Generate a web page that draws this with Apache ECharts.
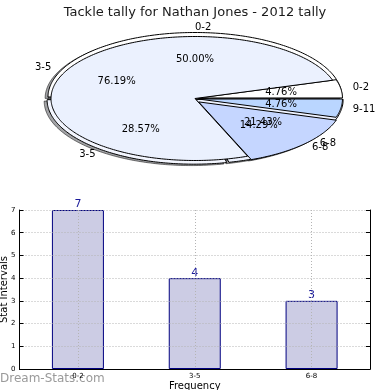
<!DOCTYPE html>
<html><head><meta charset="utf-8">
<script src="https://cdn.jsdelivr.net/npm/echarts@6/dist/echarts.min.js"></script>
<style>html,body{margin:0;padding:0;background:#fff}#c{width:390px;height:390px}</style>
</head><body><div id="c"></div>
<script>
// ---- data ----
const titleText = 'Tackle tally for Nathan Jones - 2012 tally';
const pie1Names = ['0-2', '3-5', '6-8'];
const pie1Values = [7, 4, 3];
const pie2Names = ['0-2', '3-5', '6-8', '9-11'];
const pie2Values = [1, 16, 3, 1];
const barCategories = ['0-2', '3-5', '6-8'];
const barValues = [7, 4, 3];
const yTickValues = [0, 1, 2, 3, 4, 5, 6, 7];
const xAxisName = 'Frequency';
const yAxisName = 'Stat Intervals';
const watermark = 'Dream-Stats.com';

// ---- styling / geometry ----
const FONT = '"DejaVu Sans", sans-serif';
const CX = 195, CY = 98.5;
const LABEL_RX = 145, LABEL_RY = 65;
const pie1Style = { rx: 147, ry: 64.5, explode: [1.5, 1.5, 1.5], colors: ['#ffffff', '#f3f6ff', '#eef3ff'] };
const pie2Style = { rx: 144, ry: 62, explode: [3.5, 0, 5, 3.5], colors: ['#ffffff', '#ebf1fe', '#c5d6ff', '#bad6ff'] };

function wedgePoints(cx, cy, rx, ry, a1, a2) {
  const pts = [[cx, cy]];
  const n = Math.max(2, Math.ceil(Math.abs(a2 - a1)));
  for (let i = 0; i <= n; i++) {
    const a = (a1 + (a2 - a1) * i / n) * Math.PI / 180;
    pts.push([cx + rx * Math.cos(a), cy - ry * Math.sin(a)]);
  }
  return pts;
}

function pieRender(values, names, st, mode) {
  const total = values.reduce((a, b) => a + b, 0);
  return function (params, api) {
    const i = params.dataIndex;
    let cum = 0;
    for (let k = 0; k < i; k++) cum += values[k];
    const v = api.value(0);
    const a1 = cum / total * 360, a2 = (cum + v) / total * 360;
    const mid = (a1 + a2) / 2 * Math.PI / 180;
    if (mode === 'label') {
      const c = Math.cos(mid), s = Math.sin(mid);
      return {
        type: 'group',
        children: [
          { type: 'text', style: { text: names[i], x: CX + 1.1 * LABEL_RX * c, y: CY - 1.1 * LABEL_RY * s,
              align: c >= -1e-9 ? 'left' : 'right', verticalAlign: 'middle', font: '10px ' + FONT, fill: '#000' } },
          { type: 'text', style: { text: (v / total * 100).toFixed(2) + '%', x: CX + 0.6 * LABEL_RX * c, y: CY - 0.6 * LABEL_RY * s,
              align: 'center', verticalAlign: 'middle', font: '10px ' + FONT, fill: '#000' } }
        ]
      };
    }
    const e = st.explode[i];
    let cx = CX + e * Math.cos(mid), cy = CY - e * Math.sin(mid);
    if (mode === 'shadow') { cx -= 2.9; cy += 1.4; }
    const pts = wedgePoints(cx, cy, st.rx, st.ry, a1, a2);
    if (mode === 'shadow') {
      return { type: 'polygon', shape: { points: pts }, style: { fill: 'rgba(70,72,77,0.5)', stroke: 'rgba(0,0,0,0.5)', lineWidth: 1 } };
    }
    return { type: 'polygon', shape: { points: pts }, style: { fill: st.colors[i], stroke: '#000', lineWidth: 1, lineJoin: 'miter' } };
  };
}

function pieSeries(values, names, st, mode, z) {
  return {
    type: 'custom', coordinateSystem: 'none', silent: true, z: z,
    data: values.map(v => [v]),
    renderItem: pieRender(values, names, st, mode)
  };
}

const gridDot = { color: '#b4b4b4', width: 1, type: [1, 2] };
const chart = echarts.init(document.getElementById('c'), null, { renderer: 'canvas' });
chart.setOption({
  animation: false,
  backgroundColor: '#fff',
  title: { text: titleText, left: 'center', top: 1, textStyle: { fontFamily: FONT, fontSize: 13, fontWeight: 'normal', color: '#1a1a1a' } },
  graphic: [{ type: 'text', left: 0, top: 373, style: { text: watermark, font: '12px ' + FONT, fill: '#9a9a9a' } }],
  grid: { left: 19.5, right: 20, top: 210, bottom: 21, containLabel: false, outerBoundsMode: 'none' },
  xAxis: [
    { type: 'category', data: barCategories, position: 'bottom', z: 3,
      axisLine: { lineStyle: { color: '#000', width: 1 } },
      axisTick: { inside: true, alignWithLabel: true, length: 4, lineStyle: { color: '#000' } },
      axisLabel: { fontFamily: FONT, fontSize: 7, color: '#000', margin: 4 },
      splitLine: { show: true, alignWithLabel: true, lineStyle: gridDot },
      name: xAxisName, nameLocation: 'middle', nameGap: 12, nameMoveOverlap: false,
      nameTextStyle: { fontFamily: FONT, fontSize: 10, color: '#000' } },
    { type: 'category', data: barCategories, position: 'top', z: 3,
      axisLine: { lineStyle: { color: '#000', width: 1 } },
      axisTick: { inside: true, alignWithLabel: true, length: 4, lineStyle: { color: '#000' } },
      axisLabel: { show: false }, splitLine: { show: false } }
  ],
  yAxis: [
    { type: 'value', min: yTickValues[0], max: yTickValues[yTickValues.length - 1], interval: yTickValues[1] - yTickValues[0], z: 3,
      axisLine: { show: true, lineStyle: { color: '#000', width: 1 } },
      axisTick: { show: true, inside: true, length: 4, lineStyle: { color: '#000' } },
      axisLabel: { fontFamily: FONT, fontSize: 7, color: '#000', margin: 4 },
      splitLine: { show: true, lineStyle: gridDot },
      name: yAxisName, nameLocation: 'middle', nameGap: 10, nameRotate: 90, nameMoveOverlap: false,
      nameTextStyle: { fontFamily: FONT, fontSize: 10, color: '#000' } },
    { type: 'value', position: 'right', min: yTickValues[0], max: yTickValues[yTickValues.length - 1], interval: yTickValues[1] - yTickValues[0], z: 3,
      axisLine: { show: true, lineStyle: { color: '#000', width: 1 } },
      axisTick: { show: true, inside: true, length: 4, lineStyle: { color: '#000' } },
      axisLabel: { show: false }, splitLine: { show: false } }
  ],
  series: [
    pieSeries(pie1Values, pie1Names, pie1Style, 'shadow', 1),
    pieSeries(pie2Values, pie2Names, pie2Style, 'shadow', 1),
    pieSeries(pie1Values, pie1Names, pie1Style, 'wedge', 2),
    pieSeries(pie2Values, pie2Names, pie2Style, 'wedge', 3),
    pieSeries(pie1Values, pie1Names, pie1Style, 'label', 4),
    pieSeries(pie2Values, pie2Names, pie2Style, 'label', 4),
    { type: 'bar', data: barValues, barWidth: 52, z: 2,
      itemStyle: { color: '#ccccE4', borderColor: '#000080', borderWidth: 1 },
      label: { show: true, position: 'top', distance: 0, color: '#1a1a9a', fontFamily: FONT, fontSize: 11 } }
  ]
});
</script>
</body></html>
